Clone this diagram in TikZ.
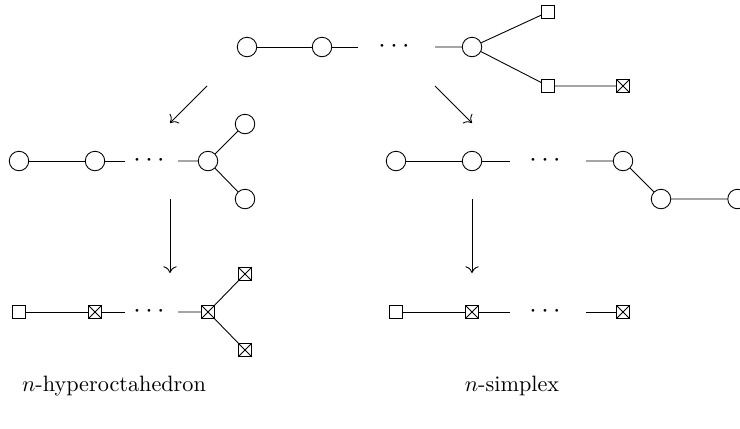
\documentclass[tikz,border=0pt]{standalone}
\usetikzlibrary{arrows.meta}
\begin{document}
\begin{tikzpicture}[x=0.45pt,y=-0.45pt,line width=0.4pt,
  dynk/.style={circle,draw,minimum size=19.5*0.45pt,inner sep=0pt},
  sq/.style={rectangle,draw,minimum size=13*0.45pt,inner sep=0pt},
  xsq/.style={sq,path picture={\draw[line width=0.4pt] (path picture bounding box.south west) -- (path picture bounding box.north east) (path picture bounding box.north west) -- (path picture bounding box.south east);}},
  dotsnode/.style={inner sep=0pt,font=\large},
  arr/.style={-{To[length=3pt,width=6pt]}},
  lbl/.style={inner sep=0pt}]
\useasboundingbox (0,0) rectangle (740,428);
% top
\node[dynk] (c1) at (247,47) {};
\node[dynk] (c2) at (322,47) {};
\coordinate (ta) at (358,47);
\node[dotsnode] (td) at (394,47) {$\cdots$};
\coordinate (tb) at (435,47);
\node[dynk] (c3) at (472,47) {};
\node[sq] (s1) at (548,12) {};
\node[sq] (s2) at (548,86) {};
\node[xsq] (x1) at (623,86) {};
\draw (c1) -- (c2) -- (ta);
\draw (tb) -- (c3) -- (s1);
\draw (c3) -- (s2) -- (x1);
% left middle
\node[dynk] (L1) at (19,161) {};
\node[dynk] (L2) at (95,161) {};
\coordinate (La) at (125,161);
\node[dotsnode] (Ld) at (149,161) {$\cdots$};
\coordinate (Lb) at (178,161);
\node[dynk] (L3) at (208,161) {};
\node[dynk] (L4) at (245,124) {};
\node[dynk] (L5) at (245,199) {};
\draw (L1) -- (L2) -- (La);
\draw (Lb) -- (L3) -- (L4);
\draw (L3) -- (L5);
% right middle
\node[dynk] (R1) at (396,161) {};
\node[dynk] (R2) at (472,161) {};
\coordinate (Ra) at (510,161);
\node[dotsnode] (Rd) at (545,161) {$\cdots$};
\coordinate (Rb) at (586,161);
\node[dynk] (R3) at (623,161) {};
\node[dynk] (R4) at (661,199) {};
\node[dynk] (R5) at (737.5,199) {};
\draw (R1) -- (R2) -- (Ra);
\draw (Rb) -- (R3) -- (R4) -- (R5);
% bottom left
\node[sq] (B1) at (19,312) {};
\node[xsq] (B2) at (95,312) {};
\coordinate (Ba) at (125,312);
\node[dotsnode] (Bd) at (149,312) {$\cdots$};
\coordinate (Bb) at (178,312);
\node[xsq] (B3) at (208,312) {};
\node[xsq] (B4) at (245,274) {};
\node[xsq] (B5) at (245,350) {};
\draw (B1) -- (B2) -- (Ba);
\draw (Bb) -- (B3) -- (B4);
\draw (B3) -- (B5);
% bottom right
\node[sq] (D1) at (396,312) {};
\node[xsq] (D2) at (472,312) {};
\coordinate (Da) at (510,312);
\node[dotsnode] (Dd) at (545,312) {$\cdots$};
\coordinate (Db) at (586,312);
\node[xsq] (D3) at (623,312) {};
\draw (D1) -- (D2) -- (Da);
\draw (Db) -- (D3);
% arrows
\coordinate (a1s) at (207,86); \coordinate (a1e) at (170,123);
\coordinate (a2s) at (435,86); \coordinate (a2e) at (472,123);
\coordinate (a3s) at (170,199); \coordinate (a3e) at (170,273);
\coordinate (a4s) at (472,199); \coordinate (a4e) at (472,273);
\draw[arr] (a1s) -- (a1e);
\draw[arr] (a2s) -- (a2e);
\draw[arr] (a3s) -- (a3e);
\draw[arr] (a4s) -- (a4e);
% labels
\node[lbl] (t1) at (114,386) {$n$-hyperoctahedron};
\node[lbl] (t2) at (512,386) {$n$-simplex};
\end{tikzpicture}
\end{document}
